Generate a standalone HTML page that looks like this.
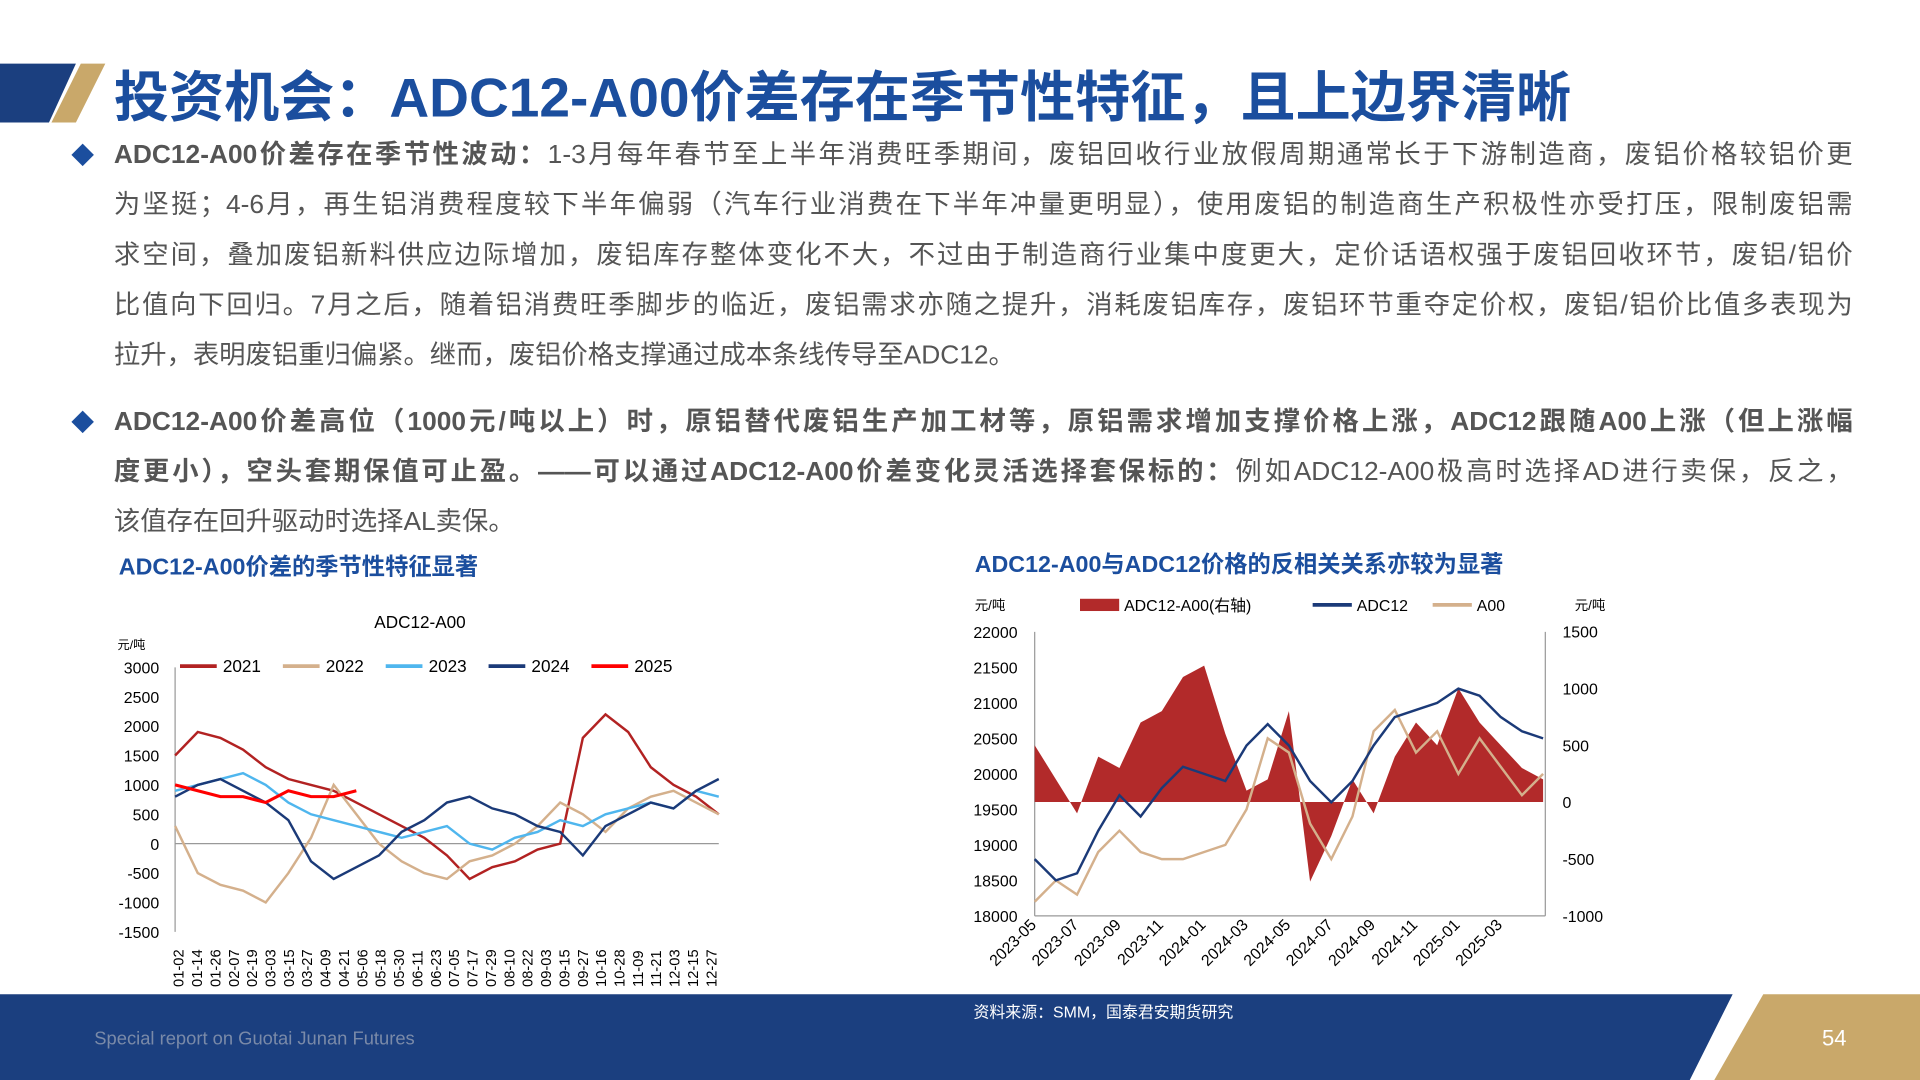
<!DOCTYPE html>
<html><head><meta charset="utf-8">
<style>
html,body{margin:0;padding:0;background:#fff;overflow:hidden;}
body{width:1920px;height:1080px;}
#stage{position:absolute;left:0;top:0;width:1568px;height:882px;transform:scale(1.22449);transform-origin:0 0;font-family:"Liberation Sans","Noto Sans CJK SC",sans-serif;}
.title{position:absolute;left:93px;top:43px;font-size:45px;font-weight:bold;color:#1b4e9e;letter-spacing:0px;white-space:nowrap;}
.para{position:absolute;left:93px;width:1420px;font-size:21.5px;color:#555;}
.line{height:41px;line-height:41px;text-align:justify;text-align-last:justify;white-space:nowrap;}
.line.l{text-align-last:left;}
b{color:#555;}
.diamond{position:absolute;width:13px;height:13px;background:#1b4e9e;transform:rotate(45deg);}
.sub{position:absolute;font-size:19px;font-weight:bold;color:#1b4e9e;}
</style></head><body>
<div id="stage">
<svg style="position:absolute;left:0;top:0" width="120" height="110">
<polygon points="0,52 62,52 40,100 0,100" fill="#1b3f7f"/>
<polygon points="66,52 86,52 62,100 42,100" fill="#c9a86a"/>
</svg>
<div class="title">投资机会：ADC12-A00价差存在季节性特征，且上边界清晰</div>

<div class="diamond" style="left:61px;top:120px"></div>
<div class="para" style="top:106px">
<div class="line"><b>ADC12-A00价差存在季节性波动：</b>1-3月每年春节至上半年消费旺季期间，废铝回收行业放假周期通常长于下游制造商，废铝价格较铝价更</div>
<div class="line">为坚挺；4-6月，再生铝消费程度较下半年偏弱（汽车行业消费在下半年冲量更明显），使用废铝的制造商生产积极性亦受打压，限制废铝需</div>
<div class="line">求空间，叠加废铝新料供应边际增加，废铝库存整体变化不大，不过由于制造商行业集中度更大，定价话语权强于废铝回收环节，废铝/铝价</div>
<div class="line">比值向下回归。7月之后，随着铝消费旺季脚步的临近，废铝需求亦随之提升，消耗废铝库存，废铝环节重夺定价权，废铝/铝价比值多表现为</div>
<div class="line l">拉升，表明废铝重归偏紧。继而，废铝价格支撑通过成本条线传导至ADC12。</div>
</div>
<div class="diamond" style="left:61px;top:338px"></div>
<div class="para" style="top:324px">
<div class="line"><b>ADC12-A00价差高位（1000元/吨以上）时，原铝替代废铝生产加工材等，原铝需求增加支撑价格上涨，ADC12跟随A00上涨（但上涨幅</b></div>
<div class="line"><b>度更小），空头套期保值可止盈。——可以通过ADC12-A00价差变化灵活选择套保标的：</b>例如ADC12-A00极高时选择AD进行卖保，反之，</div>
<div class="line l">该值存在回升驱动时选择AL卖保。</div>
</div>
<div class="sub" style="left:97px;top:448px">ADC12-A00价差的季节性特征显著</div>
<div class="sub" style="left:796px;top:446px">ADC12-A00与ADC12价格的反相关关系亦较为显著</div>

<svg id="c1" style="position:absolute;left:0;top:0" width="1568" height="882"></svg>

<svg style="position:absolute;left:0;top:0" width="1568" height="882">
<polygon points="0,812 1415,812 1380,882 0,882" fill="#1b3f7f"/>
<polygon points="1440,812 1568,812 1568,882 1400,882" fill="#c9a86a"/>
<text x="77" y="853" font-size="15" fill="#7a8aa8" font-family="Liberation Sans, sans-serif">Special report on Guotai Junan Futures</text>
<text x="795" y="831" font-size="13" fill="#fff" font-family="Liberation Sans, Noto Sans CJK SC, sans-serif">资料来源：SMM，国泰君安期货研究</text>
<text x="1488" y="854" font-size="18" fill="#fff" font-family="Liberation Sans, sans-serif">54</text>
</svg>
</div>
<script>
// ---- left chart data ----
const seasonDates=["01-02","01-14","01-26","02-07","02-19","03-03","03-15","03-27","04-09","04-21","05-06","05-18","05-30","06-11","06-23","07-05","07-17","07-29","08-10","08-22","09-03","09-15","09-27","10-16","10-28","11-09","11-21","12-03","12-15","12-27"];
const seasonYTicks=[3000,2500,2000,1500,1000,500,0,-500,-1000,-1500];
const years=["2021","2022","2023","2024","2025"];
const s2021=[1500,1900,1800,1600,1300,1100,1000,900,700,500,300,100,-200,-600,-400,-300,-100,0,1800,2200,1900,1300,1000,800,500];
const s2022=[300,-500,-700,-800,-1000,-500,100,1000,500,0,-300,-500,-600,-300,-200,0,300,700,500,200,600,800,900,700,500];
const s2023=[900,1000,1100,1200,1000,700,500,400,300,200,100,200,300,0,-100,100,200,400,300,500,600,700,600,900,800];
const s2024=[800,1000,1100,900,700,400,-300,-600,-400,-200,200,400,700,800,600,500,300,200,-200,300,500,700,600,900,1100];
const s2025=[1000,900,800,800,700,900,800,800,900];
// ---- right chart data ----
const monthLabels=["2023-05","2023-07","2023-09","2023-11","2024-01","2024-03","2024-05","2024-07","2024-09","2024-11","2025-01","2025-03"];
const leftTicks=[22000,21500,21000,20500,20000,19500,19000,18500,18000];
const rightTicks=[1500,1000,500,0,-500,-1000];
const adc12=[18800,18500,18600,19200,19700,19400,19800,20100,20000,19900,20400,20700,20400,19900,19600,19900,20400,20800,20900,21000,21200,21100,20800,20600,20500];
const a00=[18200,18500,18300,18900,19200,18900,18800,18800,18900,19000,19500,20500,20300,19300,18800,19400,20600,20900,20300,20600,20000,20500,20100,19700,20000];
const spread=[500,200,-100,400,300,700,800,1100,1200,600,100,200,800,-700,-300,200,-100,400,700,500,1000,700,500,300,200];

const NS="http://www.w3.org/2000/svg";
const svg=document.getElementById('c1');
function mk(tag,at,txt){const e=document.createElementNS(NS,tag);for(const k in at)e.setAttribute(k,at[k]);if(txt!==undefined)e.textContent=txt;svg.appendChild(e);return e;}
const F="Liberation Sans, Noto Sans CJK SC, sans-serif";
const lx=i=>143+i*(444/24), ly=v=>689-v*(24/500);
let t=mk('text',{x:343,y:513,'font-size':14,'text-anchor':'middle','font-family':F,fill:'#000'},'ADC12-A00');


t=mk('text',{x:96,y:530,'font-size':10,'font-family':F,fill:'#000'},'元/吨');


mk('line',{x1:143,y1:545,x2:143,y2:761,stroke:'#999'});
mk('line',{x1:143,y1:ly(0),x2:587,y2:ly(0),stroke:'#999'});
seasonYTicks.forEach(v=>{const e=mk('text',{x:130,y:ly(v)+5,'font-size':13,'text-anchor':'end','font-family':F,fill:'#000'},v);

});
seasonDates.forEach((d,i)=>{const x=145+i*15;const e=mk('text',{x:x+5,y:806,'font-size':12,'font-family':F,fill:'#000',transform:`rotate(-90 ${x+5} 806)`},d);

});
const cols=['#b22222','#d4b08c','#4fb6ee','#1b3a78','#ff0000'];
const sers=[s2021,s2022,s2023,s2024,s2025];
sers.forEach((s,k)=>{const p=mk('path',{d:'M'+s.map((v,i)=>lx(i)+','+ly(v)).join('L'),fill:'none',stroke:cols[k],'stroke-width':k==4?2.5:2});

});
years.forEach((y,k)=>{const x=147+k*84;mk('line',{x1:x,y1:544,x2:x+30,y2:544,stroke:cols[k],'stroke-width':3});
const e=mk('text',{x:x+35,y:549,'font-size':14,'font-family':F,fill:'#000'},y);

});
// right chart
const rx=m=>845+m*17.3, ryL=v=>516+(22000-v)*(232/4000), ryR=v=>655-v*(232/2500);
mk('line',{x1:845,y1:516,x2:845,y2:748,stroke:'#999'});
mk('line',{x1:1262,y1:516,x2:1262,y2:748,stroke:'#999'});
mk('line',{x1:845,y1:748,x2:1262,y2:748,stroke:'#999'});
leftTicks.forEach(v=>{const e=mk('text',{x:831,y:ryL(v)+5,'font-size':13,'text-anchor':'end','font-family':F,fill:'#000'},v);

});
rightTicks.forEach(v=>{const e=mk('text',{x:1276,y:ryR(v)+5,'font-size':13,'font-family':F,fill:'#000'},v);

});
monthLabels.forEach((d,i)=>{const x=rx(i*2)+2;const e=mk('text',{x:x,y:756,'font-size':13,'text-anchor':'end','font-family':F,fill:'#000',transform:`rotate(-45 ${x} 756)`},d);

});
let area='M'+rx(0)+','+ryR(0)+spread.map((v,i)=>'L'+rx(i)+','+ryR(v)).join('')+'L'+rx(spread.length-1)+','+ryR(0)+'Z';
let a=mk('path',{d:area,fill:'#b22a2a'});


let p=mk('path',{d:'M'+a00.map((v,i)=>rx(i)+','+ryL(v)).join('L'),fill:'none',stroke:'#d4b08c','stroke-width':2});


p=mk('path',{d:'M'+adc12.map((v,i)=>rx(i)+','+ryL(v)).join('L'),fill:'none',stroke:'#1b3a78','stroke-width':2});


t=mk('text',{x:796,y:498,'font-size':11,'font-family':F,fill:'#000'},'元/吨');


t=mk('text',{x:1286,y:498,'font-size':11,'font-family':F,fill:'#000'},'元/吨');


mk('rect',{x:882,y:489,width:32,height:10,fill:'#b22a2a'});
t=mk('text',{x:918,y:499,'font-size':13,'font-family':F,fill:'#000'},'ADC12-A00(右轴)');


mk('line',{x1:1072,y1:494,x2:1104,y2:494,stroke:'#1b3a78','stroke-width':3});
t=mk('text',{x:1108,y:499,'font-size':13,'font-family':F,fill:'#000'},'ADC12');


mk('line',{x1:1170,y1:494,x2:1202,y2:494,stroke:'#d4b08c','stroke-width':3});
t=mk('text',{x:1206,y:499,'font-size':13,'font-family':F,fill:'#000'},'A00');


</script>
</body></html>
